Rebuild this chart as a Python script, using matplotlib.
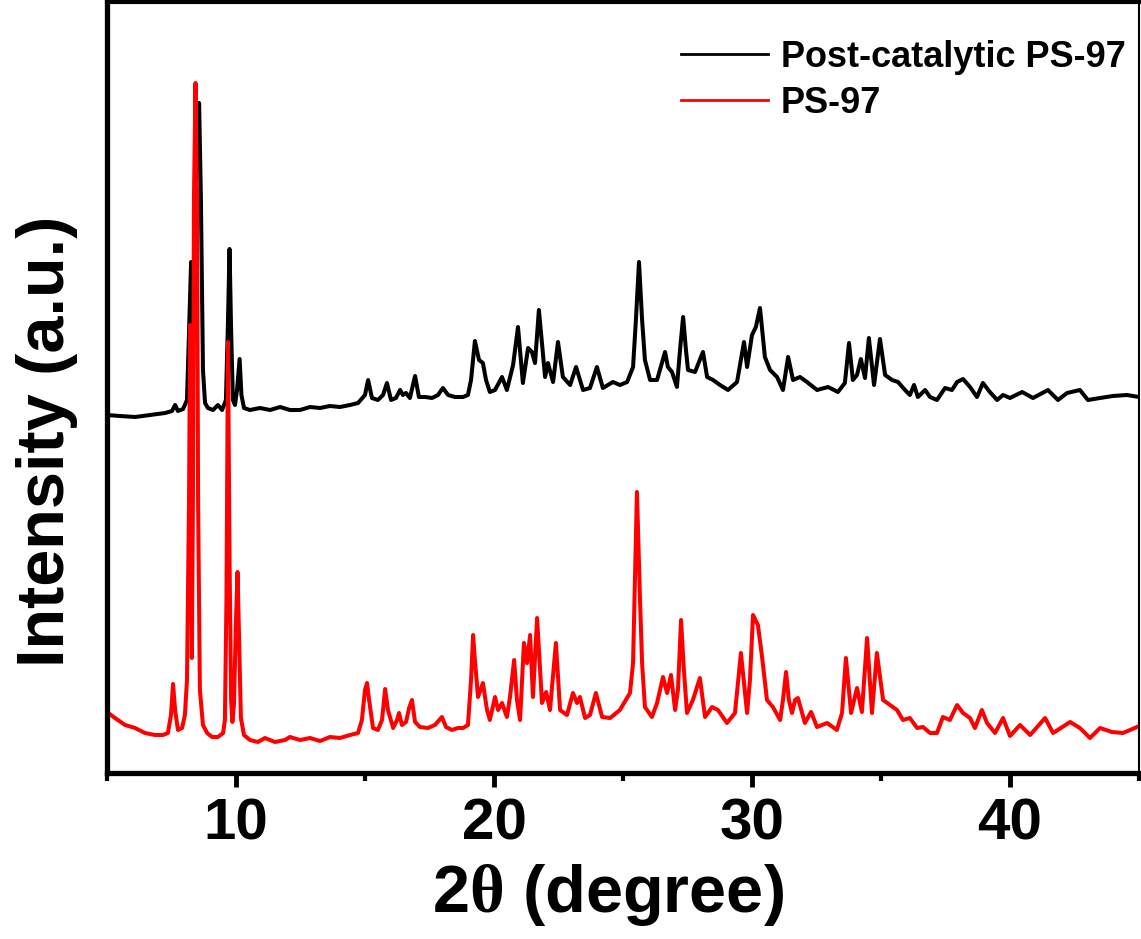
import matplotlib
matplotlib.use("Agg")
import matplotlib.pyplot as plt
from matplotlib.ticker import MultipleLocator

# 2-theta positions (degree) and intensities (a.u., offset as plotted)
post_2theta = [5.00, 5.50, 6.09, 6.67, 7.25, 7.52, 7.64, 7.75, 7.95, 8.10,
               8.18, 8.26, 8.33, 8.41, 8.49, 8.57, 8.64, 8.72, 8.80, 8.91,
               9.11, 9.30, 9.46, 9.61, 9.69, 9.75, 9.81, 9.88, 9.96, 10.04,
               10.14, 10.21, 10.31, 10.54, 10.93, 11.32, 11.71, 12.09, 12.48, 12.87,
               13.26, 13.64, 14.03, 14.42, 14.73, 15.00, 15.12, 15.27, 15.50, 15.70,
               15.85, 16.01, 16.20, 16.36, 16.47, 16.59, 16.74, 16.94, 17.09, 17.33,
               17.60, 17.83, 18.02, 18.22, 18.49, 18.80, 18.99, 19.11, 19.26, 19.42,
               19.57, 19.69, 19.84, 20.04, 20.31, 20.50, 20.74, 20.93, 21.12, 21.32,
               21.47, 21.59, 21.74, 21.98, 22.09, 22.29, 22.48, 22.67, 22.95, 23.18,
               23.45, 23.72, 23.99, 24.22, 24.61, 24.88, 25.16, 25.39, 25.50, 25.62,
               25.74, 25.85, 26.05, 26.32, 26.63, 26.74, 26.90, 27.09, 27.21, 27.33,
               27.44, 27.52, 27.79, 28.10, 28.26, 28.49, 28.76, 29.07, 29.42, 29.69,
               29.81, 30.00, 30.15, 30.31, 30.50, 30.70, 30.97, 31.20, 31.40, 31.59,
               31.86, 32.13, 32.52, 32.95, 33.33, 33.60, 33.76, 33.91, 34.07, 34.22,
               34.38, 34.53, 34.73, 34.96, 35.16, 35.43, 35.66, 35.93, 36.12, 36.28,
               36.43, 36.71, 36.90, 37.17, 37.48, 37.75, 37.95, 38.18, 38.45, 38.72,
               38.95, 39.22, 39.50, 39.73, 40.00, 40.47, 40.89, 41.47, 41.86, 42.21,
               42.71, 43.02, 43.49, 43.99, 44.53, 45.00]
post_int = [358, 357, 356, 358, 360, 362, 368, 362, 364, 373,
            443, 511, 443, 523, 643, 670, 573, 403, 370, 365,
            363, 368, 363, 373, 453, 524, 443, 373, 368, 383,
            414, 378, 365, 363, 365, 363, 366, 363, 363, 366,
            365, 367, 366, 368, 370, 378, 393, 375, 373, 378,
            390, 373, 375, 383, 378, 380, 375, 397, 376, 376,
            375, 378, 385, 378, 376, 376, 378, 393, 432, 413,
            410, 393, 381, 383, 396, 383, 408, 446, 390, 425,
            421, 410, 463, 396, 410, 391, 431, 396, 388, 406,
            383, 385, 406, 385, 391, 388, 391, 406, 453, 511,
            453, 413, 393, 393, 421, 406, 401, 386, 423, 456,
            423, 403, 401, 421, 396, 393, 388, 383, 391, 431,
            406, 438, 446, 465, 416, 403, 396, 383, 416, 393,
            396, 391, 383, 386, 381, 390, 430, 393, 398, 414,
            395, 435, 388, 434, 398, 393, 391, 383, 378, 388,
            376, 383, 376, 373, 385, 383, 391, 394, 386, 376,
            390, 381, 373, 378, 375, 381, 375, 383, 373, 380,
            383, 373, 375, 377, 378, 376]

ps97_2theta = [5.00, 5.31, 5.70, 6.09, 6.47, 6.86, 7.17, 7.36, 7.48, 7.56,
               7.64, 7.75, 7.91, 8.02, 8.10, 8.18, 8.22, 8.26, 8.29, 8.33,
               8.37, 8.43, 8.49, 8.53, 8.60, 8.72, 8.88, 9.07, 9.30, 9.50,
               9.57, 9.63, 9.69, 9.75, 9.81, 9.86, 9.92, 10.00, 10.06, 10.12,
               10.19, 10.31, 10.54, 10.85, 11.12, 11.51, 11.90, 12.09, 12.48, 12.87,
               13.26, 13.64, 14.03, 14.42, 14.73, 14.88, 15.00, 15.08, 15.16, 15.31,
               15.50, 15.66, 15.78, 15.89, 16.09, 16.24, 16.32, 16.43, 16.59, 16.71,
               16.82, 16.94, 17.13, 17.44, 17.71, 17.98, 18.14, 18.37, 18.60, 18.80,
               18.99, 19.11, 19.19, 19.26, 19.38, 19.57, 19.73, 19.84, 20.04, 20.16,
               20.31, 20.50, 20.62, 20.78, 20.89, 21.01, 21.16, 21.28, 21.40, 21.51,
               21.67, 21.86, 22.02, 22.17, 22.40, 22.56, 22.83, 23.06, 23.22, 23.33,
               23.53, 23.72, 23.95, 24.19, 24.50, 24.88, 25.27, 25.39, 25.54, 25.66,
               25.74, 25.85, 26.12, 26.32, 26.55, 26.71, 26.86, 27.02, 27.13, 27.25,
               27.36, 27.48, 27.71, 27.98, 28.18, 28.45, 28.68, 29.03, 29.34, 29.57,
               29.81, 29.92, 30.04, 30.23, 30.39, 30.58, 30.81, 31.09, 31.20, 31.32,
               31.43, 31.55, 31.67, 31.78, 32.05, 32.29, 32.52, 32.91, 33.29, 33.49,
               33.64, 33.84, 34.07, 34.26, 34.46, 34.65, 34.84, 35.08, 35.35, 35.62,
               35.85, 36.12, 36.40, 36.63, 36.90, 37.17, 37.40, 37.67, 37.95, 38.18,
               38.45, 38.64, 38.91, 39.11, 39.42, 39.73, 40.00, 40.39, 40.78, 41.36,
               41.67, 42.33, 42.71, 43.10, 43.49, 43.95, 44.38, 44.92]
ps97_int = [61, 55, 48, 45, 40, 38, 38, 40, 58, 89,
            63, 43, 45, 58, 93, 273, 448, 273, 115, 273,
            573, 690, 573, 273, 83, 48, 40, 36, 36, 40,
            53, 173, 431, 213, 73, 51, 68, 153, 201, 133,
            55, 38, 33, 31, 35, 31, 33, 36, 33, 35,
            32, 36, 35, 38, 40, 53, 83, 90, 73, 45,
            43, 53, 84, 63, 45, 53, 60, 48, 51, 65,
            73, 51, 46, 45, 48, 56, 46, 43, 45, 45,
            48, 93, 138, 113, 76, 90, 63, 53, 76, 63,
            70, 56, 76, 113, 73, 53, 130, 110, 138, 76,
            155, 70, 81, 63, 130, 63, 58, 80, 70, 76,
            55, 58, 80, 56, 55, 63, 80, 110, 281, 173,
            110, 66, 56, 70, 96, 80, 98, 63, 83, 153,
            103, 60, 73, 95, 56, 66, 63, 50, 60, 120,
            60, 93, 158, 148, 116, 73, 66, 53, 73, 101,
            73, 60, 73, 75, 50, 61, 46, 50, 43, 60,
            115, 60, 85, 61, 135, 60, 120, 73, 68, 63,
            53, 55, 45, 46, 40, 40, 56, 53, 68, 60,
            55, 45, 63, 50, 40, 55, 37, 48, 38, 55,
            40, 51, 45, 35, 45, 41, 40, 46]

series_labels = ["Post-catalytic PS-97", "PS-97"]
x_ticks = [10, 20, 30, 40]

plt.rcParams['font.family'] = ['Liberation Sans', 'DejaVu Sans']
plt.rcParams['font.weight'] = 'bold'
plt.rcParams['mathtext.fontset'] = 'custom'
plt.rcParams['mathtext.rm'] = 'Liberation Serif'
plt.rcParams['mathtext.bf'] = 'Liberation Serif:bold'

fig = plt.figure(figsize=(11.41, 9.39), dpi=100)
ax = fig.add_axes([107 / 1141, 166 / 939, 1032 / 1141, 771 / 939])

ax.plot(post_2theta, post_int, color='black', lw=2.9, solid_joinstyle='round',
        label=series_labels[0])
ax.plot(ps97_2theta, ps97_int, color='#ff0000', lw=2.9, solid_joinstyle='round',
        label=series_labels[1])

ax.set_xlim(5, 45)
ax.set_ylim(0, 771)
ax.set_xticks(x_ticks)
ax.xaxis.set_minor_locator(MultipleLocator(5))
ax.set_yticks([])

ax.tick_params(axis='x', which='major', direction='out', length=10, width=3.5,
               labelsize=42, pad=8)
ax.tick_params(axis='x', which='minor', direction='out', length=6, width=3)
for lab in ax.get_xticklabels():
    lab.set_fontweight('bold')

ax.spines['left'].set_linewidth(3.8)
ax.spines['bottom'].set_linewidth(3.8)
ax.spines['top'].set_linewidth(3.0)
ax.spines['right'].set_linewidth(1.5)

ax.set_xlabel(r'2$\mathrm{\theta}$ (degree)', fontsize=48, fontweight='bold')
ax.xaxis.set_label_coords(0.485, -0.115)
ax.set_ylabel('Intensity (a.u.)', fontsize=48, fontweight='bold')
ax.yaxis.set_label_coords(-0.028, 0.43)

leg = ax.legend(loc='upper right', bbox_to_anchor=(0.987, 0.951), frameon=False,
                fontsize=26, handlelength=2.4, handletextpad=0.35, labelspacing=0.3,
                borderpad=0, borderaxespad=0)
for line in leg.get_lines():
    line.set_linewidth(2.0)

fig.savefig('out.png', dpi=100)
